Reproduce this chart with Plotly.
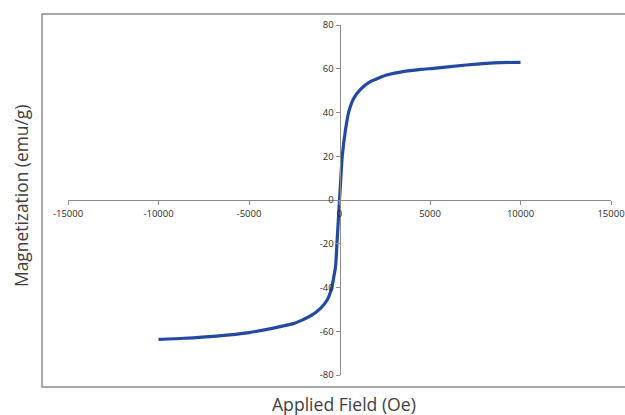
import plotly.graph_objects as go

# Data
field_oe = [-10000, -8600, -6800, -5000, -3400, -2500, -1600, -1050, -680, -460,
            -220, -130, -60, 0, 70, 150, 330, 515, 790, 1160, 1700, 2600, 3500, 4500,
            5200, 7000, 8900, 10000]
magnetization = [-63.7, -63.2, -62.2, -60.6, -58.1, -56.4, -53.0, -49.5, -45.7, -41.1,
                 -30.5, -18.3, -8.5, 0.0, 9.5, 19.8, 32.0, 40.4, 46.5, 50.6, 54.1, 57.1,
                 58.7, 59.7, 60.2, 61.7, 62.8, 62.9]

x_ticks = [-15000, -10000, -5000, 0, 5000, 10000, 15000]
y_ticks = [-80, -60, -40, -20, 0, 20, 40, 60, 80]

W, H = 625, 415
L, T, R, B = 68, 25, 14, 40
pw, ph = W - L - R, H - T - B

def px_x(p):  # page pixel -> paper
    return (p - L) / pw

def px_y(p):
    return (375 - p) / ph

fig = go.Figure()
fig.add_trace(go.Scatter(
    x=field_oe, y=magnetization, mode="lines",
    line=dict(color="#2449a0", width=3.2, shape="spline", smoothing=0.5),
    showlegend=False, hoverinfo="skip",
))

axis_common = dict(
    showgrid=False, zeroline=False, showline=True, linecolor="#8c8c8c", linewidth=1.3,
    ticks="outside", ticklen=4, tickcolor="#8c8c8c", tickwidth=1,
    tickfont=dict(family="Open Sans", size=9.5, color="#2b2b2b"),
    anchor="free", position=0.5, fixedrange=True, automargin=False,
)

fig.update_layout(
    template="none",
    width=W, height=H, autosize=False,
    margin=dict(l=L, r=R, t=T, b=B, pad=0, autoexpand=False),
    paper_bgcolor="white", plot_bgcolor="white",
    xaxis=dict(range=[-15000, 15000], tickvals=x_ticks,
               ticktext=[str(v) for v in x_ticks], **axis_common),
    yaxis=dict(range=[-80, 80], tickvals=y_ticks,
               ticktext=[str(v) for v in y_ticks], **axis_common),
    shapes=[dict(type="rect", xref="paper", yref="paper",
                 x0=px_x(42), x1=1.1, y0=px_y(387), y1=px_y(14),
                 line=dict(color="#8c8c8c", width=1.5), layer="below")],
    annotations=[
        dict(text="Applied Field (Oe)", xref="paper", yref="paper",
             x=px_x(344), y=px_y(404), xanchor="center", yanchor="middle",
             showarrow=False, font=dict(family="Open Sans", size=17.6, color="#404040")),
        dict(text="Magnetization (emu/g)", xref="paper", yref="paper",
             x=px_x(21), y=px_y(196), xanchor="center", yanchor="middle",
             textangle=-90, showarrow=False,
             font=dict(family="Open Sans", size=17.4, color="#404040")),
    ],
)

fig.write_html(
    "out.html",
    config={"displayModeBar": False, "responsive": False, "staticPlot": True},
    post_script=("document.documentElement.style.overflow='hidden';"
                 "document.body.style.margin='0';document.body.style.overflow='hidden';"),
)
